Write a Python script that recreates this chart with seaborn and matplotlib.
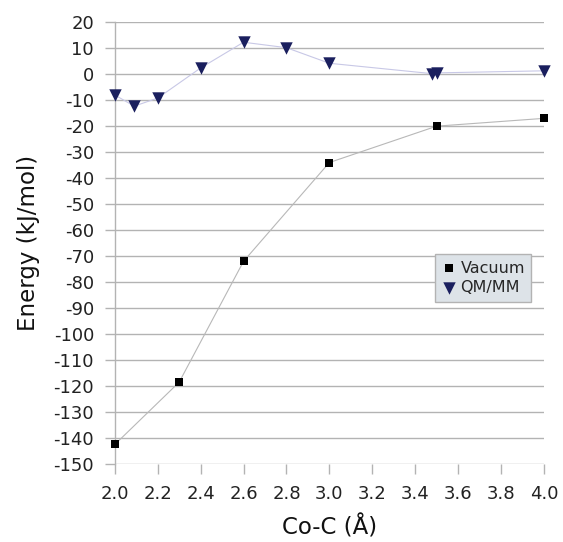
import matplotlib
matplotlib.use("Agg")
import matplotlib.pyplot as plt
import seaborn as sns
import pandas as pd

vac_x = [2.0, 2.3, 2.6, 3.0, 3.5, 4.0]
vac_y = [-142.5, -118.5, -72.0, -34.0, -20.0, -17.0]
qm_x = [2.0, 2.09, 2.2, 2.4, 2.6, 2.8, 3.0, 3.48, 3.5, 4.0]
qm_y = [-8.0, -12.3, -9.2, 2.4, 12.3, 10.2, 4.2, 0.2, 0.5, 1.3]
x_ticks = [2.0, 2.2, 2.4, 2.6, 2.8, 3.0, 3.2, 3.4, 3.6, 3.8, 4.0]
y_ticks = list(range(-150, 21, 10))

sns.set_theme(style="white")
plt.rcParams['font.family'] = ['DejaVu Sans']
plt.rcParams['axes.unicode_minus'] = False

fig = plt.figure(figsize=(5.63, 5.42), dpi=100)
ax = fig.add_axes([0.204, 0.144, 0.762, 0.815])

df_v = pd.DataFrame({"x": vac_x, "y": vac_y})
df_q = pd.DataFrame({"x": qm_x, "y": qm_y})

sns.lineplot(data=df_v, x="x", y="y", ax=ax, color="#b8b8b8", lw=0.8, zorder=2)
sns.lineplot(data=df_q, x="x", y="y", ax=ax, color="#c8c8e6", lw=0.8, zorder=2)
ax.scatter(vac_x, vac_y, marker="s", s=40, color="black", zorder=3, label="Vacuum",
           linewidths=0, clip_on=False)
ax.scatter(qm_x, qm_y, marker="v", s=80, color="#1a1f5e", zorder=3, label="QM/MM",
           linewidths=0, clip_on=False)

ax.set_xlim(2.0, 4.0)
ax.set_ylim(-150, 20)
ax.set_xticks(x_ticks)
ax.set_xticklabels([f"{t:.1f}" for t in x_ticks])
ax.set_yticks(y_ticks)
ax.set_yticklabels([str(t) for t in y_ticks])
ax.grid(axis="y", color="#b3b3b3", lw=1)
ax.grid(axis="x", visible=False)
for s in ["top", "right", "bottom"]:
    ax.spines[s].set_visible(False)
ax.spines["left"].set_color("#b3b3b3")
ax.spines["left"].set_linewidth(1)
ax.tick_params(axis="both", which="major", length=7, width=1, color="#b3b3b3",
               labelsize=13, labelcolor="#222222", direction="out")
ax.tick_params(axis="x", bottom=True, pad=8)
ax.tick_params(axis="y", left=True, pad=8)
ax.set_xlabel("Co-C (Å)", fontsize=16.5, labelpad=9, color="#111111")
ax.set_ylabel("Energy (kJ/mol)", fontsize=16.5, labelpad=10, color="#111111")

leg = ax.legend(loc="upper left", bbox_to_anchor=(0.746, 0.475), frameon=True, fontsize=11.5,
                handletextpad=0.2, borderpad=0.4, handlelength=1.0, fancybox=False,
                labelspacing=0.3, borderaxespad=0)
leg.get_frame().set_facecolor("#dde3e8")
leg.get_frame().set_edgecolor("#b3b3b3")
leg.get_frame().set_alpha(1)

fig.savefig("out.png", dpi=100)
